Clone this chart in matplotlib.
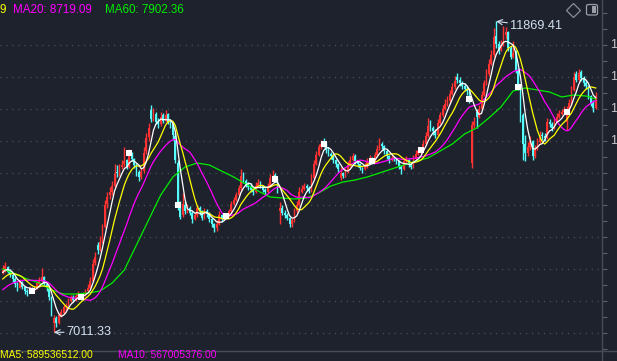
import matplotlib
matplotlib.use("Agg")
import matplotlib.pyplot as plt
import matplotlib.transforms as mtransforms
from matplotlib.lines import Line2D
from matplotlib.patches import FancyBboxPatch, Rectangle
from matplotlib.ticker import MultipleLocator
import numpy as np
import pandas as pd

# ---- data ----
# closes of the 19 sessions before the visible window (only feed the moving averages)
history_close = [7420, 7380, 7450, 7500, 7470, 7530, 7560, 7520, 7600, 7650,
                 7700, 7680, 7750, 7800, 7780, 7860, 7920, 7950, 8010]

opens = [
    7940, 7980, 8030, 7970, 7900, 7840, 7770, 7710, 7790, 7720,
    7650, 7630, 7690, 7650, 7700, 7770, 7820, 7870, 7760, 7700,
    7560, 7150, 7240, 7160, 7270, 7320, 7400, 7430, 7500, 7570,
    7520, 7580, 7610, 7560, 7600, 7650, 7700, 7820, 8090, 8380,
    8300, 8430, 8660, 9010, 9150, 9210, 9300, 9520, 9500, 9600,
    9640, 9700, 9600, 9800, 9720, 9620, 9520, 9430, 9530, 9840,
    10060, 10480, 10340, 10420, 10300, 10260, 10400, 10320, 10420, 10300,
    10260, 10080, 9650, 8980, 8840, 9000, 8900, 8960, 8880, 8780,
    8840, 8950, 8900, 8800, 8900, 8870, 8780, 8700, 8640, 8700,
    8840, 8780, 8800, 8830, 8900, 9020, 9080, 9150, 9260, 9460,
    9380, 9320, 9280, 9240, 9200, 9300, 9340, 9300, 9240, 9200,
    9300, 9420, 9470, 9400, 8900, 8950, 8880, 8840, 8800, 8700,
    8760, 8900, 9000, 9200, 9250, 9300, 9260, 9220, 9420, 9640,
    9780, 9900, 9990, 9960, 9860, 9800, 9760, 9700, 9640, 9420,
    9500, 9460, 9520, 9620, 9700, 9760, 9680, 9640, 9580, 9560,
    9600, 9680, 9720, 9680, 9780, 9880, 9960, 9920, 9850, 9760,
    9700, 9740, 9720, 9680, 9600, 9560, 9680, 9700, 9640, 9600,
    9720, 9800, 9840, 9860, 9960, 10080, 10260, 10200, 10150, 10100,
    10280, 10400, 10500, 10580, 10620, 10740, 10840, 11000, 10960, 10900,
    10860, 10820, 10780, 9660, 10250, 10460, 10380, 10500, 10720, 10900,
    11050, 11200, 11350, 11640, 11520, 11420, 11500, 11660, 11700, 11450,
    11320, 11380, 11100, 10850, 10400, 9950, 9820, 9900, 10000, 9760,
    9880, 9980, 10100, 10080, 10050, 10300, 10260, 10200, 10320, 10380,
    10420, 10450, 10300, 10460, 10600, 10800, 11040, 10960, 11080, 10980,
    10900, 10860, 10700, 10600, 10520,
]
highs = [
    8060, 8110, 8050, 8000, 7940, 7870, 7790, 7840, 7810, 7740,
    7690, 7740, 7720, 7740, 7820, 7870, 8010, 7890, 7780, 7710,
    7580, 7280, 7260, 7310, 7370, 7430, 7470, 7540, 7600, 7590,
    7620, 7650, 7630, 7640, 7690, 7760, 7880, 8160, 8270, 8420,
    8520, 8700, 9080, 9200, 9280, 9380, 9640, 9620, 9640, 9700,
    9900, 9720, 9880, 9830, 9740, 9660, 9540, 9580, 9900, 10120,
    10280, 10560, 10520, 10460, 10360, 10460, 10440, 10480, 10440, 10340,
    10290, 10120, 9700, 9060, 9180, 9060, 9020, 8990, 8900, 8890,
    9000, 8980, 8920, 8960, 8930, 8890, 8800, 8720, 8760, 8900,
    8860, 8850, 8870, 8940, 9060, 9120, 9200, 9320, 9560, 9520,
    9400, 9360, 9340, 9280, 9360, 9400, 9370, 9320, 9260, 9350,
    9480, 9540, 9500, 9420, 9040, 9000, 8920, 8870, 8820, 8800,
    8960, 9060, 9280, 9310, 9350, 9330, 9290, 9480, 9700, 9840,
    9960, 10020, 10040, 9990, 9900, 9830, 9790, 9720, 9660, 9600,
    9520, 9580, 9680, 9760, 9820, 9790, 9700, 9660, 9600, 9660,
    9740, 9780, 9750, 9830, 9940, 10040, 9990, 9940, 9870, 9780,
    9800, 9770, 9740, 9700, 9620, 9740, 9760, 9720, 9660, 9780,
    9860, 9880, 9900, 10020, 10140, 10360, 10330, 10240, 10180, 10340,
    10460, 10560, 10660, 10700, 10800, 10900, 11020, 11060, 11000, 10940,
    10900, 10860, 10800, 10320, 10380, 10500, 10560, 10780, 10960, 11120,
    11280, 11420, 11760, 11869.41, 11560, 11580, 11800, 11780, 11720, 11480,
    11560, 11420, 11140, 10880, 10440, 10100, 9980, 10080, 10020, 9940,
    10040, 10160, 10140, 10120, 10360, 10340, 10300, 10380, 10440, 10480,
    10500, 10540, 10540, 10660, 10860, 11080, 11100, 11120, 11110, 11020,
    10960, 10880, 10720, 10640, 10760,
]
lows = [
    7920, 7960, 7930, 7880, 7800, 7720, 7660, 7700, 7680, 7610,
    7580, 7620, 7630, 7640, 7690, 7750, 7800, 7740, 7660, 7520,
    7260, 7011.33, 7100, 7140, 7250, 7300, 7360, 7420, 7480, 7480,
    7500, 7540, 7520, 7540, 7580, 7640, 7690, 7800, 8060, 8240,
    8280, 8400, 8640, 8960, 9100, 9160, 9280, 9440, 9460, 9560,
    9600, 9560, 9580, 9680, 9580, 9460, 9380, 9400, 9500, 9800,
    10000, 10300, 10320, 10260, 10200, 10240, 10280, 10300, 10260, 10200,
    10020, 9650, 8920, 8780, 8820, 8860, 8880, 8840, 8720, 8760,
    8820, 8850, 8760, 8780, 8820, 8740, 8660, 8580, 8600, 8680,
    8740, 8760, 8780, 8810, 8880, 9000, 9060, 9140, 9240, 9340,
    9280, 9240, 9200, 9160, 9180, 9280, 9260, 9200, 9160, 9180,
    9280, 9400, 9360, 9180, 8700, 8840, 8800, 8760, 8650, 8660,
    8740, 8880, 8980, 9180, 9230, 9220, 9180, 9200, 9400, 9620,
    9760, 9880, 9900, 9820, 9760, 9720, 9660, 9600, 9510, 9390,
    9420, 9440, 9500, 9600, 9680, 9640, 9600, 9540, 9500, 9540,
    9580, 9660, 9640, 9660, 9760, 9860, 9880, 9800, 9720, 9660,
    9680, 9680, 9640, 9560, 9480, 9540, 9660, 9600, 9560, 9580,
    9700, 9780, 9800, 9840, 9940, 10060, 10160, 10100, 10040, 10080,
    10260, 10380, 10480, 10540, 10600, 10720, 10820, 10900, 10860, 10820,
    10780, 10720, 10600, 9580, 10200, 10200, 10360, 10480, 10700, 10880,
    11020, 11180, 11320, 11460, 11360, 11400, 11480, 11600, 11400, 11280,
    11300, 11060, 10800, 10300, 9700, 9680, 9760, 9860, 9700, 9740,
    9860, 9960, 10020, 10000, 10030, 10220, 10160, 10180, 10300, 10360,
    10400, 10430, 10170, 10440, 10580, 10780, 10920, 10940, 10940, 10860,
    10820, 10660, 10540, 10460, 10500,
]
closes = [
    7990, 8040, 7960, 7910, 7850, 7760, 7720, 7800, 7720, 7660,
    7640, 7700, 7660, 7700, 7780, 7820, 7880, 7760, 7700, 7560,
    7300, 7230, 7150, 7280, 7330, 7400, 7440, 7500, 7560, 7520,
    7580, 7600, 7560, 7600, 7650, 7700, 7820, 8080, 8180, 8300,
    8420, 8650, 9000, 9120, 9200, 9300, 9480, 9500, 9560, 9620,
    9680, 9600, 9820, 9720, 9620, 9520, 9440, 9520, 9820, 10050,
    10200, 10350, 10420, 10300, 10260, 10380, 10320, 10400, 10300, 10250,
    10100, 9700, 9000, 8820, 9020, 8900, 8960, 8880, 8780, 8840,
    8950, 8900, 8800, 8900, 8860, 8780, 8700, 8640, 8700, 8840,
    8780, 8800, 8830, 8900, 9020, 9080, 9150, 9260, 9450, 9380,
    9320, 9280, 9240, 9200, 9300, 9340, 9300, 9240, 9200, 9300,
    9420, 9460, 9400, 9220, 8950, 8880, 8840, 8800, 8700, 8760,
    8900, 9000, 9200, 9250, 9300, 9260, 9220, 9420, 9640, 9780,
    9900, 9960, 9960, 9860, 9800, 9760, 9700, 9640, 9560, 9500,
    9460, 9520, 9620, 9700, 9760, 9680, 9640, 9580, 9560, 9600,
    9680, 9720, 9680, 9780, 9880, 9960, 9920, 9850, 9760, 9700,
    9740, 9720, 9680, 9600, 9560, 9680, 9700, 9640, 9600, 9720,
    9800, 9840, 9860, 9960, 10080, 10240, 10200, 10150, 10100, 10280,
    10400, 10500, 10580, 10620, 10740, 10840, 10940, 10960, 10900, 10860,
    10820, 10780, 10650, 10250, 10300, 10380, 10500, 10720, 10900, 11050,
    11200, 11350, 11620, 11520, 11420, 11500, 11650, 11700, 11450, 11320,
    11380, 11100, 10850, 10400, 9950, 9820, 9900, 10000, 9760, 9880,
    9980, 10100, 10080, 10050, 10300, 10260, 10200, 10320, 10380, 10420,
    10450, 10480, 10460, 10600, 10800, 11000, 10960, 11060, 10980, 10900,
    10860, 10700, 10600, 10520, 10700,
]

# MA60 read every 5th session (last point = last session)
ma60_read = [
    8000, 7922, 7844, 7781, 7672, 7609, 7609, 7625, 7656, 7781,
    7984, 8375, 8766, 9156, 9438, 9594, 9656, 9625, 9531, 9438,
    9328, 9219, 9125, 9109, 9094, 9109, 9188, 9297, 9359, 9391,
    9438, 9500, 9563, 9625, 9688, 9734, 9844, 9953, 10109, 10203,
    10359, 10531, 10781, 10828, 10797, 10766, 10688, 10719, 10703,
    10656,
]

# first session of each month (white square markers)
month_start = [12, 32, 52, 72, 92, 112, 132, 152, 172, 192, 212, 232]

grid_levels = [7000, 7500, 8000, 8500, 9000, 9500, 10000, 10500, 11000, 11500]
# only the leading digit of the price scale is inside the canvas
scale_glyph = ["", "", "", "", "", "", "1", "1", "1", "1"]

top_legend = [("9", 0), ("MA20: 8719.09", 13), ("MA60: 7902.36", 105)]
vol_legend = [("MA5: 589536512.00", 0), ("MA10: 567005376.00", 118)]

# ---- style ----
BG = "#1e222d"
UP = "#ff3232"
DOWN = "#54fcfc"
C_MA5 = "#ffffff"
C_MA10 = "#ffff00"
C_MA20 = "#ff00ff"
C_MA60 = "#00ee00"
AXIS = "#454b57"
LBL = "#d2e1f0"
FONT = ["Liberation Sans", "DejaVu Sans"]

plt.rcParams["font.family"] = FONT

W, H = 617, 361
PANEL_BOTTOM = 350.7  # px from top
AXIS_X = 602

assert len(opens) == len(highs) == len(lows) == len(closes) == 245

o = np.array(opens, float)
hi = np.array(highs, float)
lo = np.array(lows, float)
c = np.array(closes, float)
idx = np.arange(len(c))

series = pd.Series(history_close + closes, dtype=float)
nh = len(history_close)
ma5 = series.rolling(5).mean().to_numpy()[nh:]
ma10 = series.rolling(10).mean().to_numpy()[nh:]
ma20 = series.rolling(20).mean().to_numpy()[nh:]
ma60_idx = list(range(0, len(c) - 4, 5)) + [len(c) - 1]

fig = plt.figure(figsize=(W / 100, H / 100), dpi=100, facecolor=BG)
ax = fig.add_axes([0, (H - PANEL_BOTTOM) / H, AXIS_X / W, PANEL_BOTTOM / H])
ax.set_facecolor(BG)

step = 2.43  # px per session
x0 = 2.8
ax.set_xlim(-x0 / step, (AXIS_X - x0) / step)
ax.set_ylim(6723.4, 12203.1)

# grid
ax.set_yticks(grid_levels)
ax.yaxis.set_minor_locator(MultipleLocator(250))
ax.grid(axis="y", which="major", color="#4b515e", linestyle=(0, (0.8, 3.5)), lw=1.0)
ax.set_axisbelow(True)
ax.yaxis.tick_right()
ax.tick_params(axis="y", which="both", direction="out", length=3.6, width=0.8,
               color="#5a606c", labelright=False)
ax.tick_params(axis="x", bottom=False, labelbottom=False)
for s in ax.spines.values():
    s.set_visible(False)

# candles
cols = np.where(c >= o, UP, DOWN)
ax.vlines(idx, lo, hi, colors=cols, lw=1.0, zorder=2)
body_lo = np.minimum(o, c)
body_h = np.maximum(np.abs(c - o), 12)
ax.bar(idx, body_h, bottom=body_lo, width=0.7, color=cols, linewidth=0, zorder=2)

# moving averages
ax.plot(ma60_idx, ma60_read, color=C_MA60, lw=0.9, zorder=3)
ax.plot(idx, ma20, color=C_MA20, lw=0.9, zorder=3)
ax.plot(idx, ma10, color=C_MA10, lw=0.9, zorder=3)
ax.plot(idx, ma5, color=C_MA5, lw=0.9, zorder=4)

ax.scatter(month_start, c[month_start], marker="s", s=16, color="white",
           linewidths=0, zorder=5)

# extreme annotations
i_lo = int(np.argmin(lo))
i_hi = int(np.argmax(hi))
ax.annotate(f"{lo[i_lo]:.2f}", xy=(i_lo, lo[i_lo]), xytext=(13, 0),
            textcoords="offset pixels", ha="left", va="center", color=LBL,
            fontsize=9.2, arrowprops=dict(arrowstyle="->", color=LBL, lw=0.8,
                                          shrinkA=0, shrinkB=0), zorder=6)
ax.annotate(f"{hi[i_hi]:.2f}", xy=(i_hi, hi[i_hi]), xytext=(14, -5),
            textcoords="offset pixels", ha="left", va="center", color=LBL,
            fontsize=9.2, arrowprops=dict(arrowstyle="->", color=LBL, lw=0.8,
                                          shrinkA=0, shrinkB=0), zorder=6)

# right price scale (cut by the canvas edge in the reference)
blend = mtransforms.blended_transform_factory(ax.transAxes, ax.transData)
for v, g in zip(grid_levels, scale_glyph):
    if g:
        ax.text(610 / AXIS_X, v, g, transform=blend, ha="left", va="center",
                fontsize=9, color="#c8c8c8", clip_on=False)

# frame lines: right axis and panel separator
fig.add_artist(Line2D([AXIS_X / W] * 2, [0, 1], color=AXIS, lw=1.0,
                      transform=fig.transFigure))
fig.add_artist(Line2D([0, 1], [(H - PANEL_BOTTOM) / H] * 2, color=AXIS, lw=1.0,
                      transform=fig.transFigure))

# legends
for (txt, xp), col in zip(top_legend, [C_MA10, C_MA20, C_MA60]):
    fig.text(xp / W, 1 - 12.7 / H, txt, color=col, fontsize=8.4, va="baseline")
for (txt, xp), col in zip(vol_legend, [C_MA10, C_MA20]):
    fig.text(xp / W, 1 - 358.2 / H, txt, color=col, fontsize=7.4, va="baseline")

# toolbar icons
fig.add_artist(Line2D([573 / W], [1 - 9.5 / H], marker="D", markersize=7.5,
                      mfc="none", mec="#8a8f99", mew=0.9, transform=fig.transFigure))
fig.add_artist(FancyBboxPatch((586.5 / W, 1 - 15 / H), 11 / W, 10.5 / H,
                              boxstyle="round,pad=0,rounding_size=0.004",
                              fc="none", ec="#9a9ea6", lw=0.9,
                              transform=fig.transFigure))
fig.add_artist(Rectangle((592 / W, 1 - 13.3 / H), 4 / W, 7.3 / H, fc="#9a9ea6",
                         ec="none", transform=fig.transFigure))

fig.savefig("out.png", dpi=100, facecolor=BG)
